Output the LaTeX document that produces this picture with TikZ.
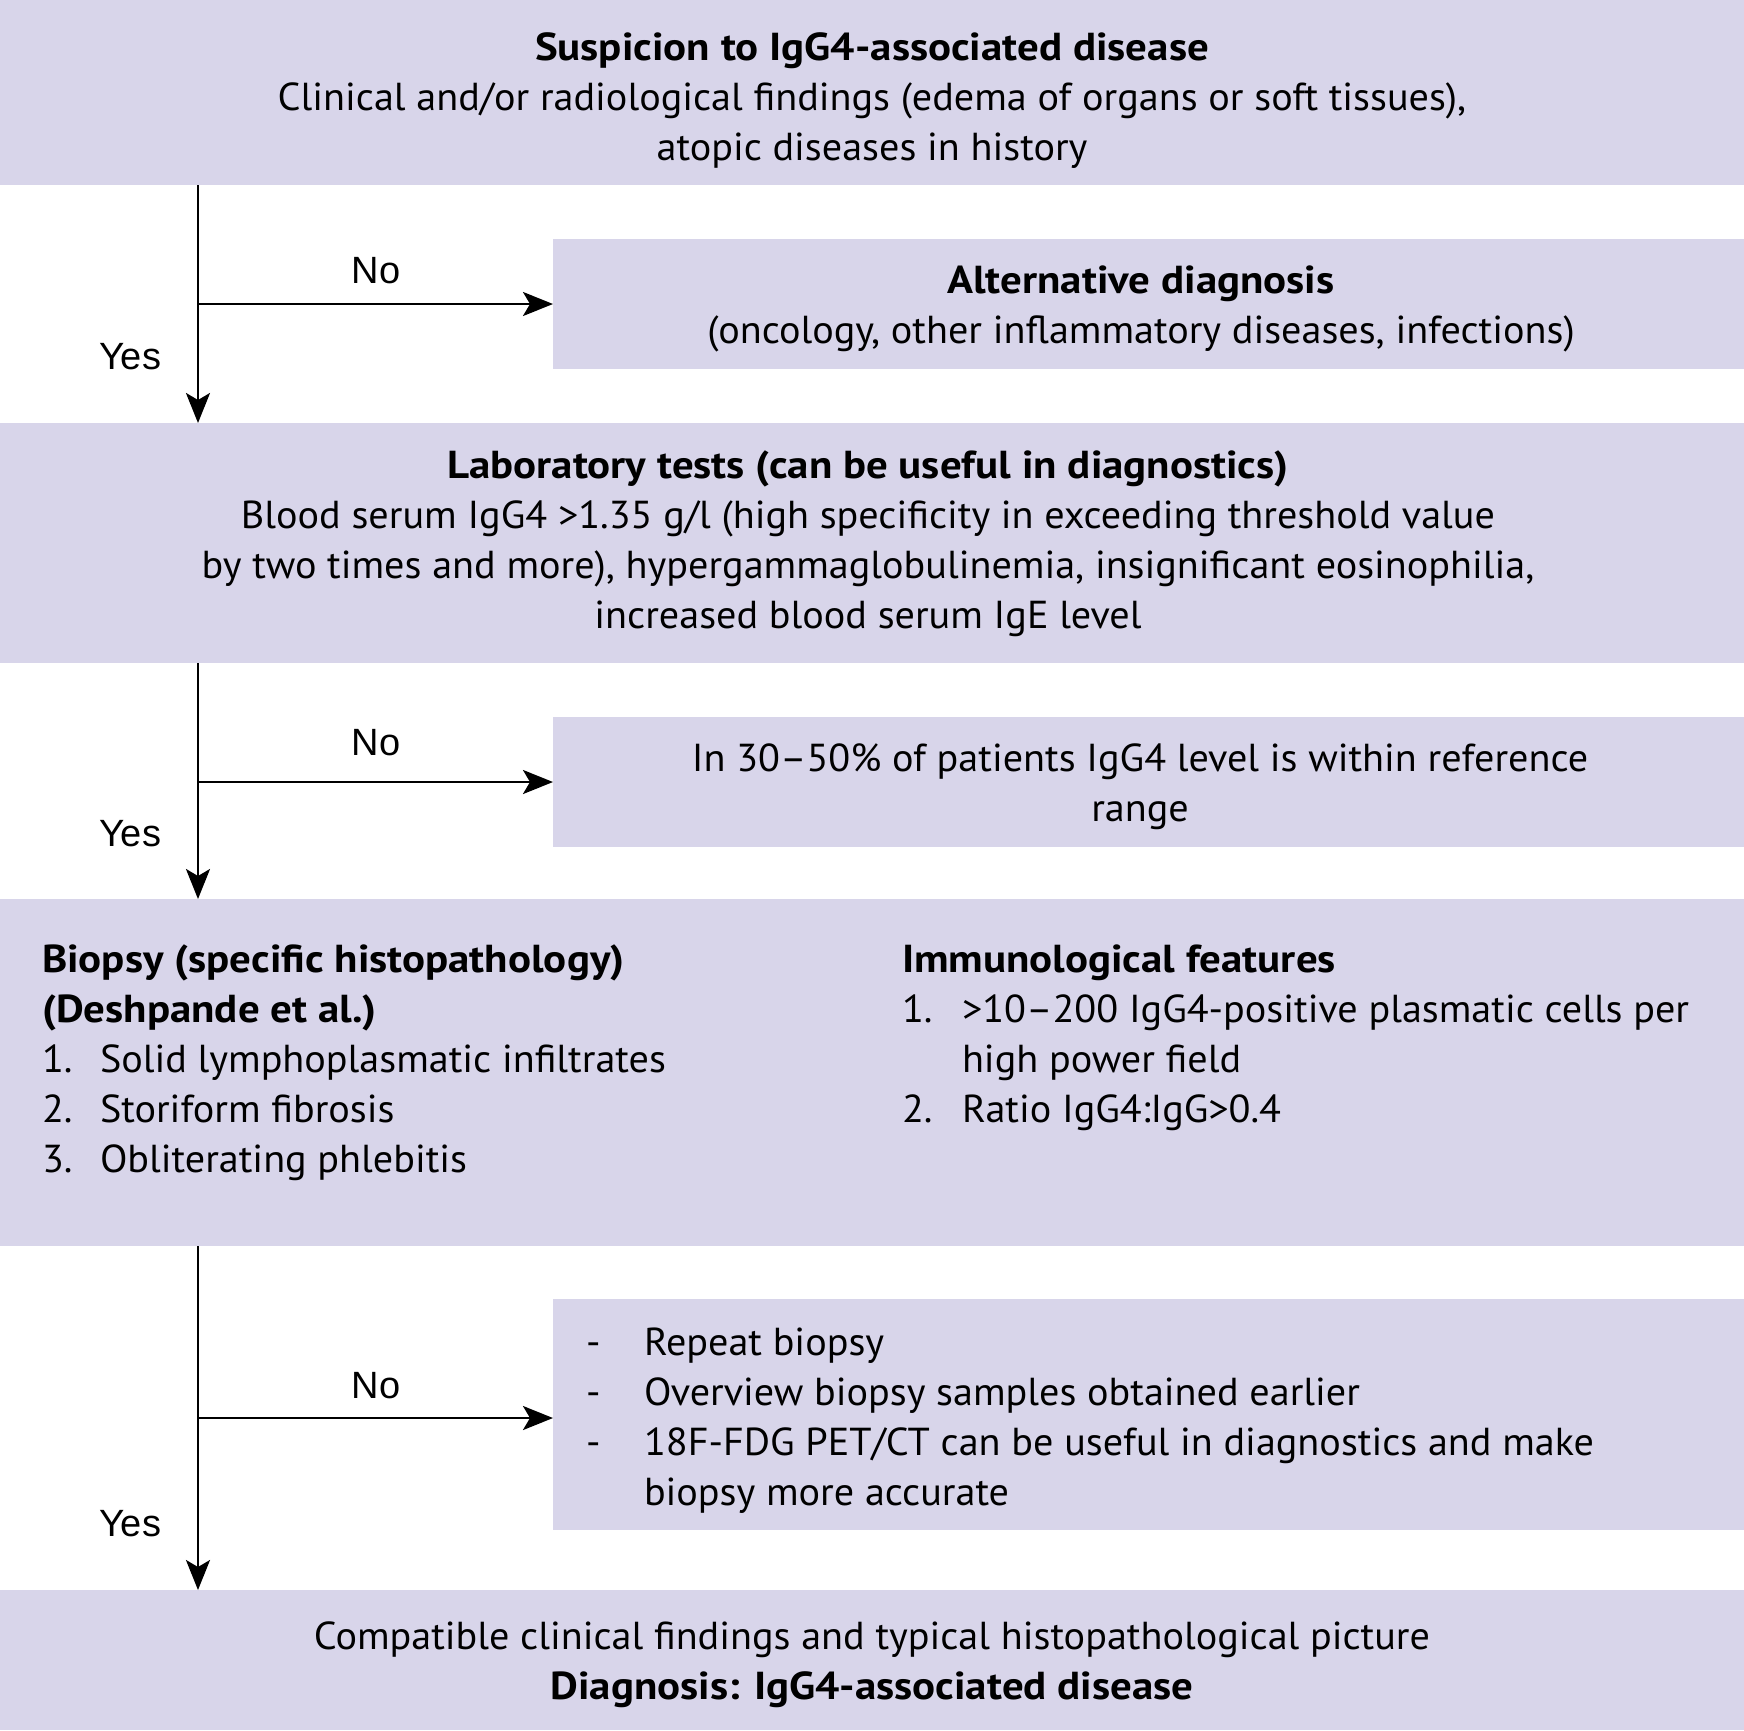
\documentclass[tikz,border=0pt]{standalone}
\usepackage{fontspec}
\setmainfont{PT Sans}[FakeStretch=1.03, BoldFeatures={FakeStretch=1.10}]
\newfontfamily\arialfont{Liberation Sans}
\usetikzlibrary{arrows.meta}
\definecolor{boxfill}{RGB}{216,213,234}
\tikzset{
  panel/.style={fill=boxfill, draw=none, inner sep=0pt, outer sep=0pt, anchor=north west},
  txt/.style={inner sep=0pt, outer sep=0pt, font=\fontsize{39}{50}\selectfont},
  ctxt/.style={txt, anchor=base},
  ltxt/.style={txt, anchor=base west},
  lbl/.style={inner sep=0pt, anchor=base, font=\arialfont\fontsize{38}{44}\selectfont},
  flow/.style={line width=2.6pt, -{Stealth[length=30pt,width=24pt,inset=7pt]}}
}
\begin{document}
\begin{tikzpicture}[x=1pt,y=-1pt]
\useasboundingbox (0,0) rectangle (1744,1730);
% panels
\node[panel, minimum width=1744pt, minimum height=185pt] (b1) at (0,0) {};
\node[panel, minimum width=1191pt, minimum height=130pt] (alt) at (553,239) {};
\node[panel, minimum width=1744pt, minimum height=240pt] (b2) at (0,423) {};
\node[panel, minimum width=1191pt, minimum height=130pt] (ref) at (553,717) {};
\node[panel, minimum width=1744pt, minimum height=347pt] (b3) at (0,899) {};
\node[panel, minimum width=1191pt, minimum height=231pt] (rep) at (553,1299) {};
\node[panel, minimum width=1744pt, minimum height=140pt] (b4) at (0,1590) {};
\coordinate (spine) at (198,0);
\coordinate (r3) at (553,1418);
\begin{scope}[yshift=-1.5pt]
% box 1 text
\node[ctxt] (t11) at (872,59) {\bfseries Suspicion to IgG4-associated disease};
\node[ctxt] (t12) at (872,109) {Clinical and/or radiological findings (edema of organs or soft tissues),};
\node[ctxt] (t13) at (872,159) {atopic diseases in history};
% alt text
\node[ctxt] (ta1) at (1141,292) {\bfseries Alternative diagnosis};
\node[ctxt] (ta2) at (1141,342) {(oncology, other inflammatory diseases, infections)};
% box 2 text
\node[ctxt] (t21) at (868,477) {\bfseries Laboratory tests (can be useful in diagnostics)};
\node[ctxt] (t22) at (868,527) {Blood serum IgG4 >1.35 g/l (high specificity in exceeding threshold value};
\node[ctxt] (t23) at (868,577) {by two times and more), hypergammaglobulinemia, insignificant eosinophilia,};
\node[ctxt] (t24) at (868,627) {increased blood serum IgE level};
% ref text
\node[ctxt] (tr1) at (1140,770) {In 30--50\% of patients IgG4 level is within reference};
\node[ctxt] (tr2) at (1140,820) {range};
% box 3 text left
\node[ltxt] (t31) at (42,971) {\bfseries Biopsy (specific histopathology)};
\node[ltxt] (t32) at (42,1021) {\bfseries (Deshpande et al.)};
\node[ltxt] (n33) at (42,1071) {1.};
\node[ltxt] (t33) at (100,1071) {Solid lymphoplasmatic infiltrates};
\node[ltxt] (n34) at (42,1121) {2.};
\node[ltxt] (t34) at (100,1121) {Storiform fibrosis};
\node[ltxt] (n35) at (42,1171) {3.};
\node[ltxt] (t35) at (100,1171) {Obliterating phlebitis};
% box 3 text right
\node[ltxt] (t36) at (902,971) {\bfseries Immunological features};
\node[ltxt] (n37) at (902,1021) {1.};
\node[ltxt] (t37) at (962,1021) {>10--200 IgG4-positive plasmatic cells per};
\node[ltxt] (t38) at (962,1071) {high power field};
\node[ltxt] (n39) at (902,1121) {2.};
\node[ltxt] (t39) at (962,1121) {Ratio IgG4:IgG>0.4};
% repeat text
\node[ltxt] (d41) at (586,1354) {-};
\node[ltxt] (t41) at (644,1354) {Repeat biopsy};
\node[ltxt] (d42) at (586,1404) {-};
\node[ltxt] (t42) at (644,1404) {Overview biopsy samples obtained earlier};
\node[ltxt] (d43) at (586,1454) {-};
\node[ltxt] (t43) at (644,1454) {18F-FDG PET/CT can be useful in diagnostics and make};
\node[ltxt] (t44) at (644,1504) {biopsy more accurate};
% final text
\node[ctxt] (t51) at (872,1648) {Compatible clinical findings and typical histopathological picture};
\node[ctxt] (t52) at (872,1698) {\bfseries Diagnosis: IgG4-associated disease};
% labels
\node[lbl] (no1) at (376,282) {No};
\node[lbl] (yes1) at (130,368) {Yes};
\node[lbl] (no2) at (376,754) {No};
\node[lbl] (yes2) at (130,845) {Yes};
\node[lbl] (no3) at (376,1397) {No};
\node[lbl] (yes3) at (130,1535) {Yes};
\end{scope}
% connectors
\draw[flow] (b1.south -| spine) -- (b2.north -| spine);
\draw[flow] (spine |- alt.west) -- (alt.west);
\draw[flow] (b2.south -| spine) -- (b3.north -| spine);
\draw[flow] (spine |- ref.west) -- (ref.west);
\draw[flow] (b3.south -| spine) -- (b4.north -| spine);
\draw[flow] (spine |- r3) -- (rep.west |- r3);
\end{tikzpicture}
\end{document}
